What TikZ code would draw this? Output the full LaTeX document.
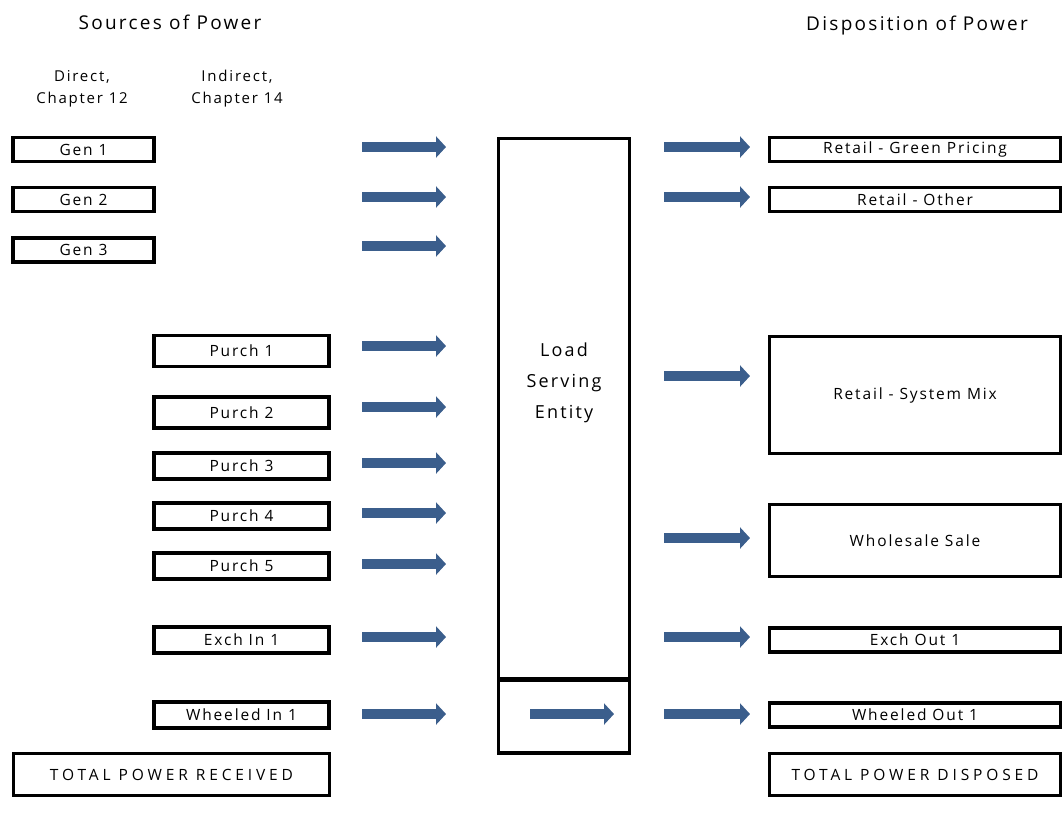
\documentclass[tikz,border=0pt]{standalone}
\usepackage{fontspec}
\setmainfont{Open Sans}[LetterSpace=12]
\usetikzlibrary{arrows.meta}
\definecolor{flowblue}{RGB}{59,94,140}
\tikzset{
  box/.style={draw, line width=3.5pt, inner sep=0pt, font=\fontsize{15.5}{18}\selectfont},
  totalbox/.style={box, font=\fontsize{15.5}{18}\selectfont\addfontfeatures{LetterSpace=25}},
  flow/.style={draw=flowblue, line width=10pt, -{Triangle[length=10pt,width=21pt]}},
  heading/.style={font=\fontsize{19}{22}\selectfont},
  colhead/.style={align=center, font=\fontsize{15}{22}\selectfont},
}
\begin{document}
\begin{tikzpicture}[x=1pt,y=-1pt]
\useasboundingbox (0,0) rectangle (1064,823);

% headings
\node[heading] (hsrc) at (170,22) {Sources of Power};
\node[heading] (hdisp) at (917,26) {Disposition of Power};
\node[colhead] (hdir) at (82,89) {Direct,\\Chapter 12};
\node[colhead] (hind) at (237,89) {Indirect,\\Chapter 14};

% direct sources
\node[box, minimum width=141pt, minimum height=24pt] (gen1) at (83.5,149.5) {Gen 1};
\node[box, minimum width=141pt, minimum height=24pt] (gen2) at (83.5,199.5) {Gen 2};
\node[box, minimum width=141pt, minimum height=24pt] (gen3) at (83.5,250) {Gen 3};

% indirect sources
\node[box, minimum width=175pt, minimum height=31pt] (pur1) at (241.5,351) {Purch 1};
\node[box, minimum width=175pt, minimum height=31pt] (pur2) at (241.5,412.5) {Purch 2};
\node[box, minimum width=175pt, minimum height=26pt] (pur3) at (241.5,466) {Purch 3};
\node[box, minimum width=175pt, minimum height=26pt] (pur4) at (241.5,516) {Purch 4};
\node[box, minimum width=175pt, minimum height=26pt] (pur5) at (241.5,566) {Purch 5};
\node[box, minimum width=175pt, minimum height=26pt] (exin) at (241.5,640) {Exch In 1};
\node[box, minimum width=175pt, minimum height=26pt] (whin) at (241.5,715) {Wheeled In 1};
\node[totalbox, minimum width=316pt, minimum height=42pt] (totin) at (171.5,774.5) {TOTAL POWER RECEIVED};

% load serving entity
\node[box, minimum width=131pt, minimum height=540pt] (lse) at (564,408.5) {};
\node[box, minimum width=131pt, minimum height=73pt] (lsew) at (564,716.5) {};
\node[align=center, font=\fontsize{18}{31}\selectfont] (lsetxt) at (564,383) {Load\\Serving\\Entity};

% dispositions
\node[box, minimum width=291pt, minimum height=24pt] (rgreen) at (915,149.5) {Retail - Green Pricing};
\node[box, minimum width=291pt, minimum height=24pt] (rother) at (915,199.5) {Retail - Other};
\node[box, minimum width=291pt, minimum height=117pt] (rmix) at (915,395) {Retail - System Mix};
\node[box, minimum width=291pt, minimum height=72pt] (whole) at (915,540.5) {Wholesale Sale};
\node[box, minimum width=291pt, minimum height=24pt] (exout) at (915,640) {Exch Out 1};
\node[box, minimum width=291pt, minimum height=24pt] (whout) at (915,715) {Wheeled Out 1};
\node[totalbox, minimum width=291pt, minimum height=42pt] (totout) at (915,774.5) {TOTAL POWER DISPOSED};

% flows into the entity
\foreach \y [count=\i] in {147,197,246,346,407,463,513,564,637,714} {
  \coordinate (in\i) at (362,\y);
  \coordinate (ine\i) at (446,\y);
  \draw[flow] (in\i) -- (ine\i);
}
% flows out of the entity
\foreach \y [count=\i] in {147,197,376,538,637,714} {
  \coordinate (out\i) at (664,\y);
  \coordinate (oute\i) at (750,\y);
  \draw[flow] (out\i) -- (oute\i);
}
% wheeled power passing through
\coordinate (thru) at (530,714);
\coordinate (thrue) at (614,714);
\draw[flow] (thru) -- (thrue);
\end{tikzpicture}
\end{document}
